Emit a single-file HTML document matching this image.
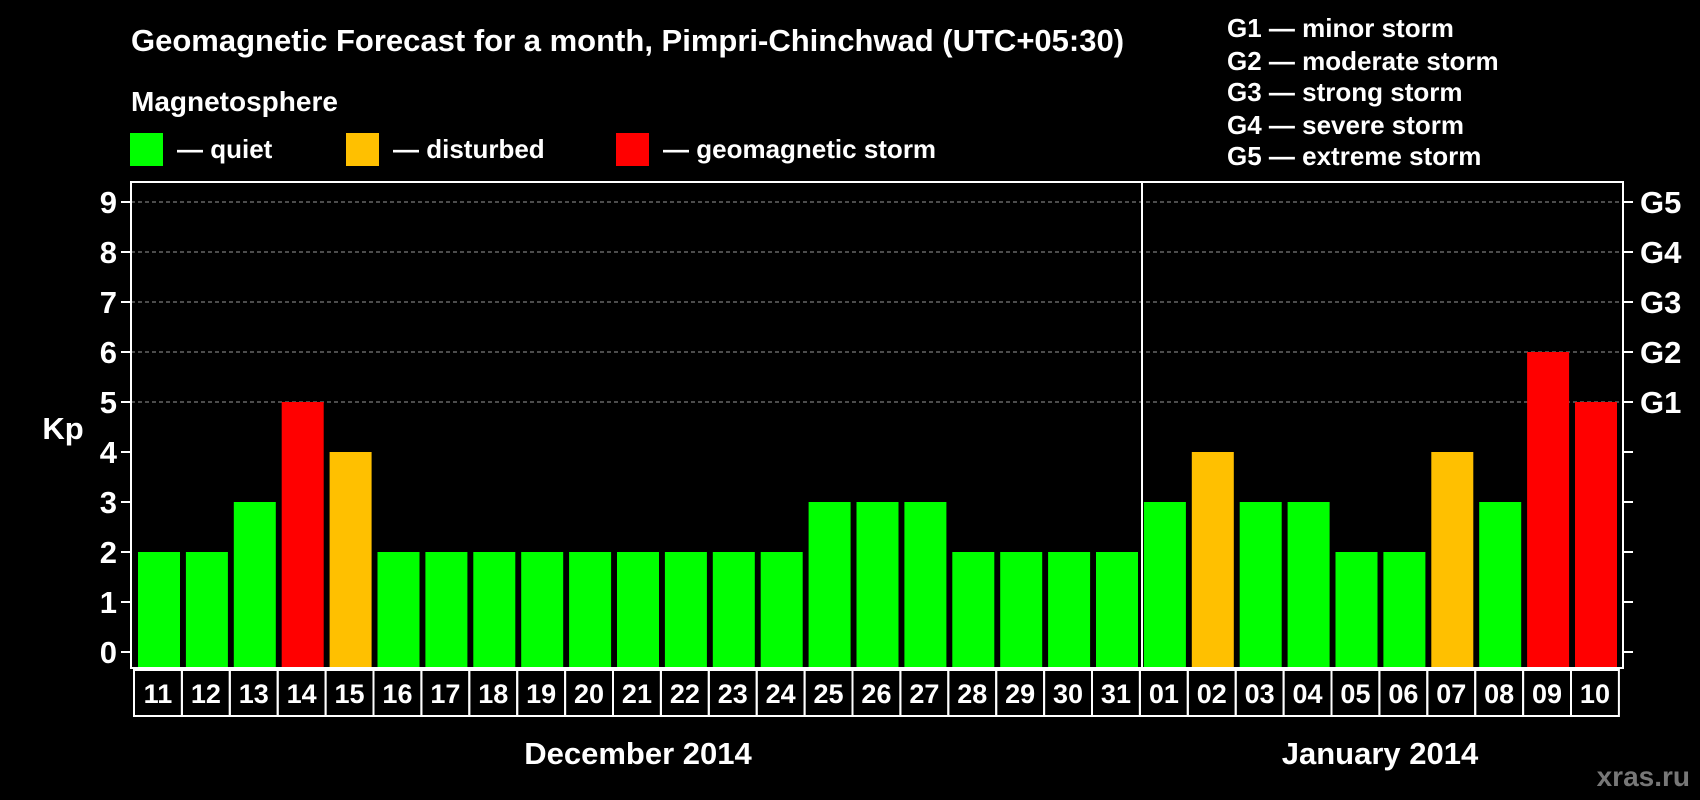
<!DOCTYPE html>
<html><head><meta charset="utf-8"><style>
body{margin:0;background:#000;width:1700px;height:800px;overflow:hidden}
svg{display:block}
text{font-family:"Liberation Sans",Arial,sans-serif;font-weight:bold;fill:#fff}
</style></head><body>
<svg id="chart" width="1700" height="800">
<text x="131" y="51" font-size="31">Geomagnetic Forecast for a month, Pimpri-Chinchwad (UTC+05:30)</text>
<text x="131" y="111" font-size="28">Magnetosphere</text>
<g><rect x="130" y="133" width="33" height="33" fill="#00ff00"/><text x="177" y="158" font-size="26">— quiet</text></g>
<g><rect x="346" y="133" width="33" height="33" fill="#ffc000"/><text x="393" y="158" font-size="26">— disturbed</text></g>
<g><rect x="616" y="133" width="33" height="33" fill="#ff0000"/><text x="663" y="158" font-size="26">— geomagnetic storm</text></g>
<g font-size="26">
<text x="1227" y="37">G1 — minor storm</text>
<text x="1227" y="70">G2 — moderate storm</text>
<text x="1227" y="101">G3 — strong storm</text>
<text x="1227" y="134">G4 — severe storm</text>
<text x="1227" y="165">G5 — extreme storm</text>
</g>
<text x="63" y="439" font-size="31" text-anchor="middle">Kp</text>
<g id="grid"></g><g id="bars"></g><g id="axes"></g>
<text x="638" y="764" font-size="31" text-anchor="middle">December 2014</text>
<text x="1380" y="764" font-size="31" text-anchor="middle">January 2014</text>
<text x="1690" y="786" font-size="28" text-anchor="end" style="fill:#777">xras.ru</text>
</svg>
<script>
const decDays=["11","12","13","14","15","16","17","18","19","20","21","22","23","24","25","26","27","28","29","30","31"];
const decValues=[2,2,3,5,4,2,2,2,2,2,2,2,2,2,3,3,3,2,2,2,2];
const janDays=["01","02","03","04","05","06","07","08","09","10"];
const janValues=[3,4,3,3,2,2,4,3,6,5];
const yTicks=[0,1,2,3,4,5,6,7,8,9];
const gLabels=["G1","G2","G3","G4","G5"];
const NS="http://www.w3.org/2000/svg";
const L=131,R=1623,T=182,B=668,Y0=652,UNIT=(652-202)/9,DIV=1142,STEP=47.9,CELL0=134;
function y(v){return Y0-v*UNIT;}
function mk(tag,attrs,parent){const e=document.createElementNS(NS,tag);for(const k in attrs)e.setAttribute(k,attrs[k]);parent.appendChild(e);return e;}
function color(v){return v>=5?"#ff0000":(v>=4?"#ffc000":"#00ff00");}
const grid=document.getElementById("grid"),bars=document.getElementById("bars"),axes=document.getElementById("axes");
yTicks.forEach(v=>{
  if(v>=5){const g=mk("line",{x1:L,x2:R,y1:y(v),y2:y(v),stroke:"#999","stroke-dasharray":"4,3","stroke-width":1},grid);
  
  }
  const t1=mk("line",{x1:L-10,x2:L,y1:y(v),y2:y(v),stroke:"#fff","stroke-width":2},axes);
  
  
  const t2=mk("line",{x1:R,x2:R+10,y1:y(v),y2:y(v),stroke:"#fff","stroke-width":2},axes);
  
  
  const tl=mk("text",{x:L-14,y:y(v)+11,"font-size":31,"text-anchor":"end"},axes);tl.textContent=v;
  
  
  if(v>=5){const gl=mk("text",{x:R+17,y:y(v)+11,"font-size":31},axes);gl.textContent=gLabels[v-5];
  
  }
});
const allDays=decDays.concat(janDays),allVals=decValues.concat(janValues);
allDays.forEach((d,i)=>{
  const x0=CELL0+i*STEP,v=allVals[i];
  const b=mk("rect",{x:x0+4,y:y(v),width:42,height:B-1-y(v),fill:color(v)},bars);
  
  
  const c=mk("rect",{x:x0,y:670,width:STEP,height:46,fill:"none",stroke:"#fff","stroke-width":2},axes);
  
  
  const t=mk("text",{x:x0+STEP/2,y:703,"font-size":27,"text-anchor":"middle"},axes);t.textContent=d;
  
  
});
const fr=mk("rect",{x:L,y:T,width:R-L,height:B-T,fill:"none",stroke:"#fff","stroke-width":2},axes);


const dv=mk("line",{x1:DIV,x2:DIV,y1:T,y2:B,stroke:"#fff","stroke-width":2},axes);


</script>
</body></html>
